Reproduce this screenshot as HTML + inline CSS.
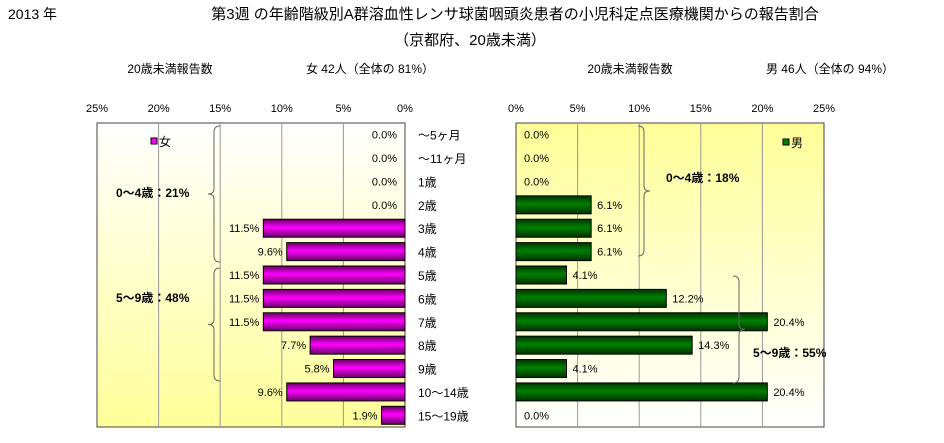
<!DOCTYPE html>
<html><head><meta charset="utf-8"><style>
body{margin:0;background:#fff;}
svg{display:block;font-family:"Liberation Sans","Noto Sans CJK JP",sans-serif;}
</style></head><body>
<svg id="c" width="944" height="443">
<defs>
<linearGradient id="gl" x1="0" y1="0" x2="0" y2="1"><stop offset="0" stop-color="#fff"/><stop offset="1" stop-color="#ffff99"/></linearGradient>
<linearGradient id="gr" x1="0" y1="0" x2="0" y2="1"><stop offset="0" stop-color="#ffff99"/><stop offset="1" stop-color="#fff"/></linearGradient>
<linearGradient id="bf" x1="0" y1="0" x2="0" y2="1"><stop offset="0" stop-color="#660066"/><stop offset=".45" stop-color="#ff00ff"/><stop offset="1" stop-color="#660066"/></linearGradient>
<linearGradient id="bm" x1="0" y1="0" x2="0" y2="1"><stop offset="0" stop-color="#003300"/><stop offset=".45" stop-color="#008000"/><stop offset="1" stop-color="#003300"/></linearGradient>
</defs>
<text x="8" y="19" font-size="14">2013 年</text>
<text x="515" y="19" font-size="15" text-anchor="middle">第3週 の年齢階級別A群溶血性レンサ球菌咽頭炎患者の小児科定点医療機関からの報告割合</text>
<text x="470" y="45" font-size="15" text-anchor="middle">（京都府、20歳未満）</text>
<text x="170" y="73" font-size="12" text-anchor="middle">20歳未満報告数</text>
<text x="370" y="73" font-size="12" text-anchor="middle">女  42人（全体の  81%）</text>
<text x="630" y="73" font-size="12" text-anchor="middle">20歳未満報告数</text>
<text x="830" y="73" font-size="12" text-anchor="middle">男  46人（全体の  94%）</text>
<g id="g"></g>
</svg>
<script>
const categories=["～5ヶ月","～11ヶ月","1歳","2歳","3歳","4歳","5歳","6歳","7歳","8歳","9歳","10～14歳","15～19歳"];
const female=[0,0,0,0,11.5,9.6,11.5,11.5,11.5,7.7,5.8,9.6,1.9];
const male=[0,0,0,6.1,6.1,6.1,4.1,12.2,20.4,14.3,4.1,20.4,0];
const ticks=[0,5,10,15,20,25];
const NS="http://www.w3.org/2000/svg",g=document.getElementById('g');
function el(t,a,txt){const e=document.createElementNS(NS,t);for(const k in a)e.setAttribute(k,a[k]);if(txt!=null)e.textContent=txt;g.appendChild(e);return e;}
const plotTop=123,plotBot=427,rowH=(plotBot-plotTop)/categories.length,barH=18;
const L0=405,R0=516,W=308,maxV=25;
const xl=v=>L0-v/maxV*W, xr=v=>R0+v/maxV*W, yc=i=>plotTop+rowH*(i+0.5);
let e;
e=el('rect',{x:xl(25),y:plotTop,width:W,height:plotBot-plotTop,fill:'url(#gl)',stroke:'#444'});

e=el('rect',{x:R0,y:plotTop,width:W,height:plotBot-plotTop,fill:'url(#gr)',stroke:'#444'});

ticks.forEach(t=>{
 if(t>0&&t<25){e=el('line',{x1:xl(t),x2:xl(t),y1:plotTop,y2:plotBot,stroke:'#999'});
 e=el('line',{x1:xr(t),x2:xr(t),y1:plotTop,y2:plotBot,stroke:'#999'});}
 e=el('text',{x:xl(t),y:112,'font-size':11,'text-anchor':'middle'},t+'%');
 e=el('text',{x:xr(t),y:112,'font-size':11,'text-anchor':'middle'},t+'%');
});
categories.forEach((c,i)=>{
 const y=yc(i);
 e=el('text',{x:418,y:y+5,'font-size':12},c);
 const f=female[i];
 if(f>0){e=el('rect',{x:xl(f),y:y-barH/2,width:xl(0)-xl(f),height:barH,fill:'url(#bf)',stroke:'#000'});}
 e=el('text',{x:(f>0?xl(f)-4:xl(0)-8),y:y+4,'font-size':11,'text-anchor':'end'},f.toFixed(1)+'%');
 const m=male[i];
 if(m>0){e=el('rect',{x:xr(0),y:y-barH/2,width:xr(m)-xr(0),height:barH,fill:'url(#bm)',stroke:'#000'});}
 e=el('text',{x:(m>0?xr(m)+6:xr(0)+8),y:y+4,'font-size':11},m.toFixed(1)+'%');
});
e=el('rect',{x:151,y:138,width:6,height:6,fill:'#f0f',stroke:'#000'});
e=el('text',{x:159,y:146,'font-size':12},'女');
e=el('rect',{x:783,y:139,width:6,height:6,fill:'#008000',stroke:'#000'});
e=el('text',{x:791,y:147,'font-size':12},'男');
function brace(x,y1,y2,dir,name){const m=(y1+y2)/2,d=dir*6;
 e=el('path',{d:`M${x+d} ${y1} Q${x} ${y1} ${x} ${y1+6} L${x} ${m-5} Q${x} ${m} ${x-d} ${m} Q${x} ${m} ${x} ${m+5} L${x} ${y2-6} Q${x} ${y2} ${x+d} ${y2}`,fill:'none',stroke:'#666'});
 }
brace(214,126,262,1,'female-brace-0-4');brace(214,268,381,1,'female-brace-5-9');
brace(644,126,256,-1,'male-brace-0-4');brace(739,276,383,-1,'male-brace-5-9');
e=el('text',{x:116,y:197,'font-size':12,'font-weight':'bold'},'0～4歳：21%');
e=el('text',{x:116,y:302,'font-size':12,'font-weight':'bold'},'5～9歳：48%');
e=el('text',{x:666,y:182,'font-size':12,'font-weight':'bold'},'0～4歳：18%');
e=el('text',{x:753,y:357,'font-size':12,'font-weight':'bold'},'5～9歳：55%');
</script>
</body></html>
